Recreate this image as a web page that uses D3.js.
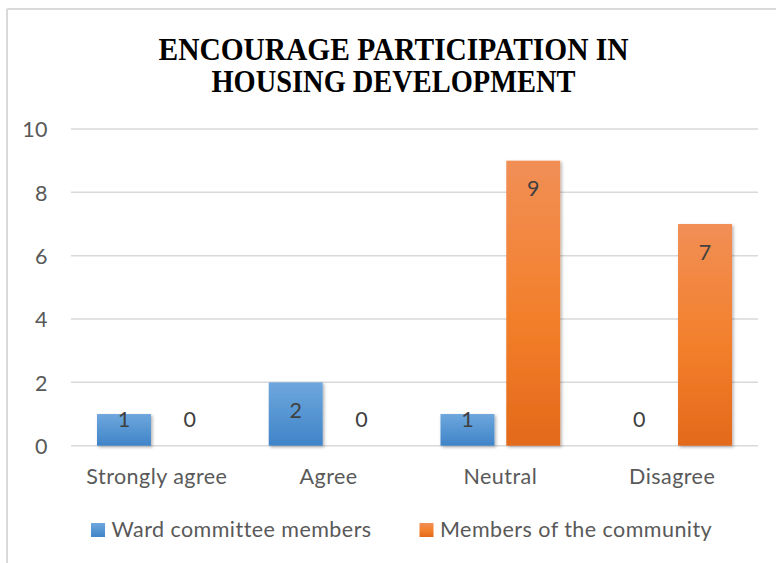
<!DOCTYPE html>
<html>
<head>
<meta charset="utf-8">
<script src="https://cdn.jsdelivr.net/npm/d3@7"></script>
<style>
  html, body { margin: 0; padding: 0; background: #fff; }
  svg { display: block; }
</style>
</head>
<body>
<script>
// Survey responses by group
const categories = ["Strongly agree", "Agree", "Neutral", "Disagree"];
const seriesNames = ["Ward committee members", "Members of the community"];
const wardValues = [1, 2, 1, 0];
const communityValues = [0, 0, 9, 7];
const yTicks = [0, 2, 4, 6, 8, 10];
const titleLines = ["ENCOURAGE PARTICIPATION IN", "HOUSING DEVELOPMENT"];

const W = 776, H = 563;
const svg = d3.select("body").append("svg").attr("width", W).attr("height", H);
const defs = svg.append("defs");

// Vertical gradients for the two series
const grads = [
  { id: "gBlue", stops: [["0%", "#6ea7dd"], ["100%", "#3f84c8"]] },
  { id: "gOrange", stops: [["0%", "#f18f56"], ["55%", "#f37f2b"], ["100%", "#e3691a"]] }
];
grads.forEach(g => {
  const lg = defs.append("linearGradient").attr("id", g.id)
    .attr("x1", 0).attr("y1", 0).attr("x2", 0).attr("y2", 1);
  g.stops.forEach(s => lg.append("stop").attr("offset", s[0]).attr("stop-color", s[1]));
});
const sh = defs.append("filter").attr("id", "shadow")
  .attr("x", "-20%").attr("y", "-20%").attr("width", "150%").attr("height", "150%");
sh.append("feDropShadow").attr("dx", 1.5).attr("dy", 1.5).attr("stdDeviation", 1.5)
  .attr("flood-color", "#000").attr("flood-opacity", 0.3);

// Chart frame
svg.append("line").attr("x1", 7).attr("x2", W).attr("y1", 9).attr("y2", 9)
  .attr("stroke", "#d9d9d9").attr("stroke-width", 2);
svg.append("line").attr("x1", 7).attr("x2", 7).attr("y1", 9).attr("y2", H)
  .attr("stroke", "#d9d9d9").attr("stroke-width", 2);

// Title
const titleFont = "'Liberation Serif', 'Times New Roman', serif";
const titleG = svg.append("g");
[[titleLines[0], 60, 470], [titleLines[1], 91.5, 364]].forEach(([t, y, len]) => {
  titleG.append("text")
    .attr("x", 393.5).attr("y", y)
    .attr("text-anchor", "middle")
    .attr("font-family", titleFont).attr("font-weight", "bold")
    .attr("font-size", 32.5).attr("fill", "#000")
    .attr("textLength", len).attr("lengthAdjust", "spacingAndGlyphs")
    .text(t);
});

const bodyFont = "Lato, 'Open Sans', sans-serif";
const bodySize = 21.5;
const bodySpacing = 0.45;
const plot = { left: 71, right: 758, top: 129, bottom: 445.7 };

const y = d3.scaleLinear().domain([0, 10]).range([plot.bottom, plot.top]);
const x0 = d3.scaleBand().domain(categories).range([plot.left, plot.right]).padding(0);
const x1 = d3.scaleBand().domain(seriesNames).range([0, x0.bandwidth()])
  .paddingInner(0.18).paddingOuter(0.395);

// Gridlines
svg.append("g").selectAll("line").data(yTicks).join("line")
  .attr("x1", plot.left).attr("x2", plot.right)
  .attr("y1", d => y(d)).attr("y2", d => y(d))
  .attr("stroke", "#d9d9d9").attr("stroke-width", 1.5);

// Y axis labels
const yAxis = svg.append("g").attr("transform", `translate(${plot.left - 23},0)`)
  .call(d3.axisLeft(y).tickValues(yTicks).tickSize(0).tickPadding(0));
yAxis.select(".domain").remove();
yAxis.selectAll("text").attr("font-family", bodyFont).attr("font-size", bodySize)
  .attr("letter-spacing", bodySpacing)
  .attr("fill", "#595959").attr("dy", "0.36em");

// X axis labels
const xAxis = svg.append("g").attr("transform", `translate(0,${plot.bottom})`)
  .call(d3.axisBottom(x0).tickSize(0).tickPadding(0));
xAxis.select(".domain").remove();
xAxis.selectAll("text").attr("font-family", bodyFont).attr("font-size", bodySize)
  .attr("letter-spacing", bodySpacing)
  .attr("fill", "#595959").attr("dy", 0).attr("y", 38.5);

// Bars
const rows = categories.map((c, i) => ({
  cat: c,
  vals: [
    { s: seriesNames[0], v: wardValues[i], fill: "url(#gBlue)" },
    { s: seriesNames[1], v: communityValues[i], fill: "url(#gOrange)" }
  ]
}));
const groups = svg.append("g").selectAll("g").data(rows).join("g")
  .attr("transform", d => `translate(${x0(d.cat)},0)`);
groups.selectAll("rect").data(d => d.vals.filter(e => e.v > 0)).join("rect")
  .attr("x", d => x1(d.s)).attr("width", x1.bandwidth())
  .attr("y", d => y(d.v)).attr("height", d => y(0) - y(d.v))
  .attr("fill", d => d.fill).attr("filter", "url(#shadow)");

// Data labels, placed inside the bar end
groups.selectAll("text.val").data(d => d.vals).join("text")
  .attr("class", "val")
  .attr("x", d => x1(d.s) + x1.bandwidth() / 2)
  .attr("y", d => Math.min(y(d.v) + 28, y(0) - 26))
  .attr("dy", "0.36em")
  .attr("text-anchor", "middle")
  .attr("font-family", bodyFont).attr("font-size", bodySize).attr("fill", "#404040")
  .text(d => d.v);

// Legend
const legend = svg.append("g");
const legendItems = [
  { name: seriesNames[0], fill: "url(#gBlue)", x: 91 },
  { name: seriesNames[1], fill: "url(#gOrange)", x: 419.5 }
];
legendItems.forEach(it => {
  legend.append("rect").attr("x", it.x).attr("y", 523).attr("width", 14).attr("height", 14)
    .attr("fill", it.fill);
  legend.append("text").attr("x", it.x + 20.5).attr("y", 536.7)
    .attr("font-family", bodyFont).attr("font-size", bodySize).attr("fill", "#595959")
    .attr("letter-spacing", bodySpacing)
    .text(it.name);
});
</script>
</body>
</html>
